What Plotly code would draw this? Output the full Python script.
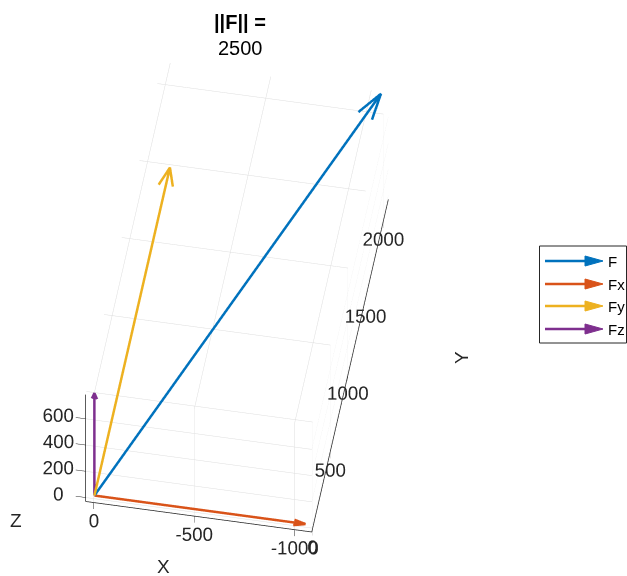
import numpy as np
import plotly.graph_objects as go

# ---- data ----
names = ["F", "Fx", "Fy", "Fz"]
u = [-1050, -1050, 0, 0]
v = [2130, 0, 2130, 0]
w = [780, 0, 0, 780]
colors = ["#0072BD", "#D95319", "#EDB120", "#7E2F8E"]
x_ticks = [-1000, -500, 0]
x_ticklabels = ["-1000", "-500", "0"]
y_ticks = [0, 500, 1000, 1500, 2000]
y_ticklabels = ["0", "500", "1000", "1500", "2000"]
z_ticks = [0, 200, 400, 600]
z_ticklabels = ["0", "200", "400", "600"]
axis_titles = ["X", "Y", "Z"]
title_line1 = "<b>||F|| =</b>"
title_line2 = "2500"

x_range = [-1085, 40]
y_range = [-20, 2140]
z_range = [-30, 785]

W, H = 627, 576
FONT = "Liberation Sans, Arial, sans-serif"
PAD = "\u00a0" * 12  # pushes y tick labels away from the axis line

fig = go.Figure()

for n, uu, vv, ww, c in zip(names, u, v, w, colors):
    d = np.array([uu, vv, ww], dtype=float)
    L = np.linalg.norm(d)
    dh = d / L
    perp = np.array([-dh[1], dh[0], 0.0])
    if np.linalg.norm(perp) < 1e-9:
        perp = np.array([1.0, 0.0, 0.0])
    perp = perp / np.linalg.norm(perp)
    hl = 0.055 * L
    hw = 0.3 * hl
    tip = d
    a1 = tip - hl * dh + hw * perp
    a2 = tip - hl * dh - hw * perp
    xs = [0, tip[0], None, a1[0], tip[0], a2[0]]
    ys = [0, tip[1], None, a1[1], tip[1], a2[1]]
    zs = [0, tip[2], None, a1[2], tip[2], a2[2]]
    fig.add_trace(go.Scatter3d(x=xs, y=ys, z=zs, mode="lines", name=n,
                               line=dict(color=c, width=5),
                               showlegend=False, hoverinfo="skip",
                               connectgaps=False))

# camera from MATLAB-like view (az, el)
az, el = np.deg2rad(170), np.deg2rad(-50)
dirv = np.array([np.sin(az) * np.cos(el), -np.cos(az) * np.cos(el), np.sin(el)])
eye = dirv * 2.0

rx = x_range[1] - x_range[0]
ry = y_range[1] - y_range[0]
rz = z_range[1] - z_range[0]
m = max(rx, ry, rz)
zoom = 1.58

axis_common = dict(showbackground=False, showgrid=True, gridcolor="#dedede",
                   gridwidth=1, zeroline=False, showline=True, linecolor="#262626",
                   linewidth=1.5, ticks="outside", tickcolor="#262626", ticklen=10,
                   showspikes=False, tickangle=0,
                   tickfont=dict(family=FONT, size=15, color="#262626"),
                   mirror=False, title=dict(text=""))

fig.update_layout(
    width=W, height=H,
    margin=dict(l=0, r=0, t=0, b=0),
    paper_bgcolor="white",
    font=dict(family=FONT, color="#262626"),
    scene=dict(
        domain=dict(x=[0, 474 / W], y=[0, 1 - 2 * (297 - 288) / H]),
        aspectmode="manual",
        aspectratio=dict(x=zoom * rx / m, y=zoom * ry / m, z=zoom * rz / m),
        camera=dict(eye=dict(x=eye[0], y=eye[1], z=eye[2]),
                    up=dict(x=0, y=0, z=1), center=dict(x=0, y=0, z=0),
                    projection=dict(type="orthographic")),
        xaxis=dict(axis_common, range=x_range, tickvals=x_ticks, ticktext=x_ticklabels),
        yaxis=dict(axis_common, range=y_range, tickvals=y_ticks,
                   ticktext=[PAD + t for t in y_ticklabels]),
        zaxis=dict(axis_common, range=z_range, tickvals=z_ticks, ticktext=z_ticklabels),
    ),
)

def px(xp):
    return xp / W

def py(yp):
    return 1 - yp / H

# title
fig.add_annotation(x=px(240), y=py(22), xref="paper", yref="paper", text=title_line1,
                   showarrow=False, xanchor="center", yanchor="middle",
                   font=dict(family=FONT, size=20, color="black"))
fig.add_annotation(x=px(240), y=py(48), xref="paper", yref="paper", text=title_line2,
                   showarrow=False, xanchor="center", yanchor="middle",
                   font=dict(family=FONT, size=20, color="black"))

# axis titles
for t, (ax_, ay_, ang) in zip(axis_titles, [(163, 566, 0), (461, 358, -90), (16, 520, 0)]):
    fig.add_annotation(x=px(ax_), y=py(ay_), xref="paper", yref="paper", text=t,
                       showarrow=False, xanchor="center", yanchor="middle", textangle=ang,
                       font=dict(family=FONT, size=19, color="#262626"))

# ---- custom legend (arrows) ----
fig.add_shape(type="rect", xref="paper", yref="paper",
              x0=px(539.5), x1=px(626.5), y0=py(343), y1=py(246),
              line=dict(color="#262626", width=1), fillcolor="white")
rows = [261, 284, 306, 329]
for n, c, ry_ in zip(names, colors, rows):
    fig.add_shape(type="line", xref="paper", yref="paper",
                  x0=px(545), x1=px(588), y0=py(ry_), y1=py(ry_),
                  line=dict(color=c, width=2.5))
    path = "M {} {} L {} {} L {} {} Z".format(px(585), py(ry_ - 5), px(603), py(ry_),
                                              px(585), py(ry_ + 5))
    fig.add_shape(type="path", xref="paper", yref="paper", path=path,
                  fillcolor=c, line=dict(color=c, width=1))
    fig.add_annotation(x=px(606), y=py(ry_), xref="paper", yref="paper", text=n,
                       showarrow=False, xanchor="left", yanchor="middle",
                       font=dict(family=FONT, size=15, color="black"))

fig.write_html("out.html", config=dict(displayModeBar=False))
